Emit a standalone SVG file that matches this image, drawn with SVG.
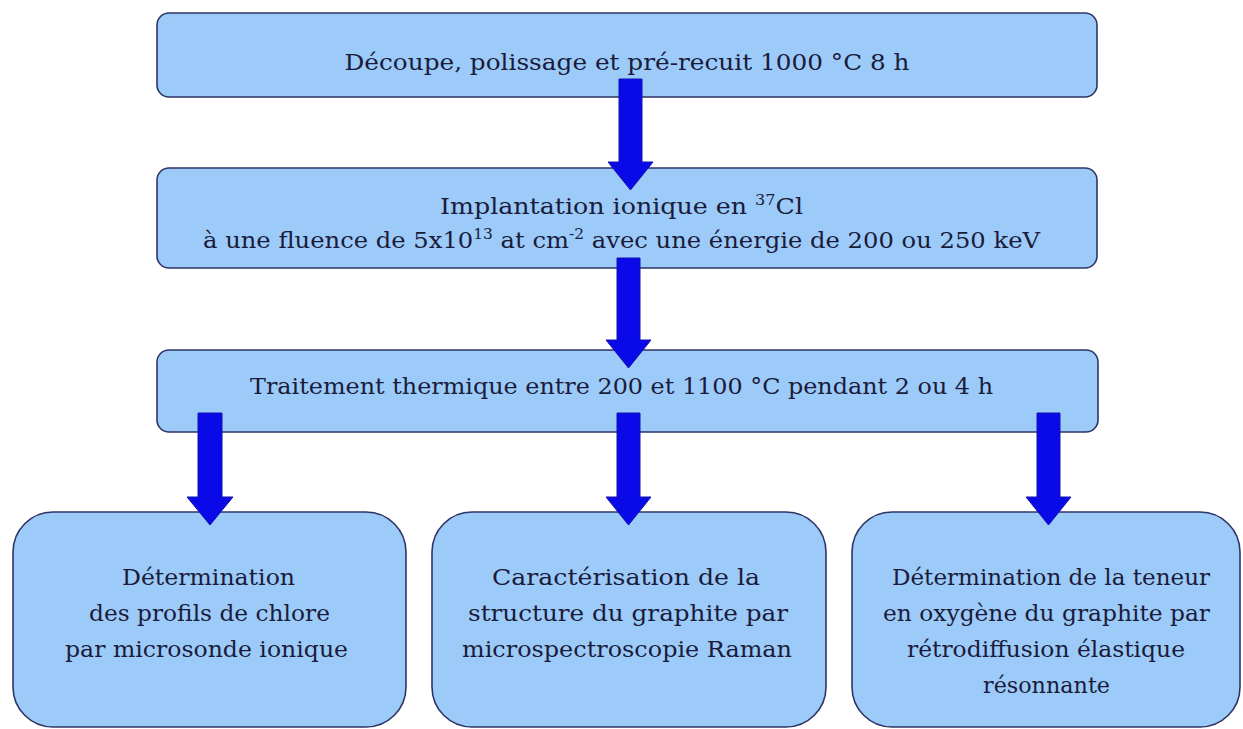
<svg xmlns="http://www.w3.org/2000/svg" width="1243" height="729" viewBox="0 0 1243 729">
<style>
.box{fill:#9CCBFA;stroke:#2E3566;stroke-width:1.6}
.t{font-family:"DejaVu Serif","Liberation Serif",serif;font-size:22px;fill:#1B1B3A}
.arr{fill:#0A0AE8;stroke:#1212B0;stroke-width:1}
</style>
<rect width="1243" height="729" fill="#FFFFFF"/>
<g id="n1">
<rect class="box" x="157" y="13" width="940" height="84" rx="12"/>
<text class="t" x="627" y="70" text-anchor="middle" textLength="565" lengthAdjust="spacingAndGlyphs">Découpe, polissage et pré-recuit 1000 °C 8 h</text>
</g>
<g id="n2">
<rect class="box" x="157" y="168" width="940" height="100" rx="12"/>
<text class="t" x="440" y="214" textLength="363" lengthAdjust="spacingAndGlyphs">Implantation ionique en <tspan font-size="14" dy="-9">37</tspan><tspan dy="9">Cl</tspan></text>
<text class="t" x="203" y="248" textLength="837" lengthAdjust="spacingAndGlyphs">à une fluence de 5x10<tspan font-size="14" dy="-9">13</tspan><tspan dy="9"> at cm</tspan><tspan font-size="14" dy="-9">-2</tspan><tspan dy="9"> avec une énergie de 200 ou 250 keV</tspan></text>
</g>
<g id="n3">
<rect class="box" x="157" y="350" width="941" height="82" rx="12"/>
<text class="t" x="250" y="394" textLength="743" lengthAdjust="spacingAndGlyphs">Traitement thermique entre 200 et 1100 °C pendant 2 ou 4 h</text>
</g>
<g id="n4">
<rect class="box" x="13" y="512" width="393" height="215" rx="40"/>
<text class="t" x="122" y="585" textLength="173" lengthAdjust="spacingAndGlyphs">Détermination</text>
<text class="t" x="89" y="621" textLength="241" lengthAdjust="spacingAndGlyphs">des profils de chlore</text>
<text class="t" x="65" y="657" textLength="283" lengthAdjust="spacingAndGlyphs">par microsonde ionique</text>
</g>
<g id="n5">
<rect class="box" x="432" y="512" width="394" height="215" rx="40"/>
<text class="t" x="492" y="585" textLength="268" lengthAdjust="spacingAndGlyphs">Caractérisation de la</text>
<text class="t" x="468" y="621" textLength="320" lengthAdjust="spacingAndGlyphs">structure du graphite par</text>
<text class="t" x="462" y="657" textLength="330" lengthAdjust="spacingAndGlyphs">microspectroscopie Raman</text>
</g>
<g id="n6">
<rect class="box" x="852" y="512" width="388" height="215" rx="40"/>
<text class="t" x="892" y="585" textLength="318" lengthAdjust="spacingAndGlyphs">Détermination de la teneur</text>
<text class="t" x="883" y="621" textLength="327" lengthAdjust="spacingAndGlyphs">en oxygène du graphite par</text>
<text class="t" x="907" y="657" textLength="278" lengthAdjust="spacingAndGlyphs">rétrodiffusion élastique</text>
<text class="t" x="983" y="693" textLength="127" lengthAdjust="spacingAndGlyphs">résonnante</text>
</g>
<g id="connectors">
<polygon class="arr" points="619,79 642,79 642,162 653,162 630.5,190 608,162 619,162"/>
<polygon class="arr" points="617,258 640,258 640,340 651,340 628.5,368 606,340 617,340"/>
<polygon class="arr" points="198,413 222,413 222,497 233,497 210,525 187,497 198,497"/>
<polygon class="arr" points="617,413 640,413 640,497 651,497 628.5,525 606,497 617,497"/>
<polygon class="arr" points="1037,413 1060,413 1060,497 1071,497 1048.5,525 1026,497 1037,497"/>
</g>
</svg>
